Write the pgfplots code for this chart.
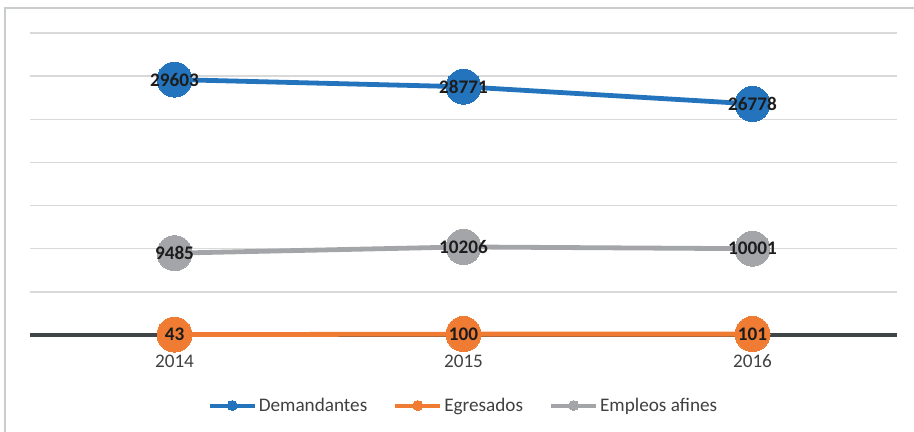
\documentclass[border=0pt]{standalone}
\usepackage{pgfplots}
\pgfplotsset{compat=1.18}
\usepackage{fontspec}
\setmainfont{Carlito}
\definecolor{cBlue}{HTML}{2374BD}
\definecolor{cOrange}{HTML}{F07B33}
\definecolor{cGray}{HTML}{A3A5A8}
\definecolor{cGrid}{HTML}{D9D9D9}
\definecolor{cAxis}{HTML}{404548}
\definecolor{cText}{HTML}{404040}
\definecolor{cLab}{HTML}{1C1C1C}
\definecolor{cBorder}{HTML}{C9CDCD}
\newcommand\lbl{\fontsize{19.2bp}{23bp}\selectfont}
\pgfplotsset{ser/.style={color=#1, line width=4.8bp, mark=*, mark size=17.5bp,
  mark options={fill=#1, draw=#1, line width=0pt},
  point meta=explicit symbolic, nodes near coords,
  every node near coord/.append style={anchor=center, font=\lbl\bfseries, text=cLab}}}
\begin{document}
\begin{tikzpicture}
\useasboundingbox (0,0) rectangle (914bp,432bp);
\draw[color=cBorder, line width=1.6bp] (5bp,0bp) -- (5bp,424bp) -- (914bp,424bp);
\begin{axis}[
  at={(30bp,97bp)}, anchor=south west,
  scale only axis, width=867bp, height=302bp,
  xmin=-0.5, xmax=2.5, ymin=0, ymax=35000,
  xtick={0,1,2}, xticklabels={2014,2015,2016},
  ytick={5000,10000,...,35000}, yticklabels={},
  scaled y ticks=false,
  ymajorgrids, grid style={color=cGrid, line width=1.3bp},
  axis x line=bottom, axis y line=left,
  x axis line style={draw=none, opacity=0},
  every outer x axis line/.append style={draw=none, opacity=0},
  y axis line style={draw=none, opacity=0},
  major tick length=0pt,
  xticklabel style={font=\lbl, text=cText, yshift=-16.5bp},
  clip=false,
  legend columns=3,
  legend style={draw=none, fill=none, at={(0.5,-0.2335)}, anchor=center,
    font=\lbl, text=cText,
    /tikz/every odd column/.append style={column sep=0bp},
    /tikz/every even column/.append style={column sep=24bp}},
  legend image code/.code={\draw[mark repeat=2,mark phase=2,#1,mark size=5bp,line width=4bp] plot coordinates {(0bp,0bp) (22.5bp,0bp) (45bp,0bp)};},
]
\addplot[color=cAxis, line width=3bp, no marks, forget plot] coordinates {(-0.5,0) (2.5,0)};
\addplot[ser=cBlue]
  table[meta=l] {
x y l
0 29603 29603
1 28771 28771
2 26778 26778
};
\addlegendentry{Demandantes}
\addplot[ser=cOrange]
  table[meta=l] {
x y l
0 43 43
1 100 100
2 101 101
};
\addlegendentry{Egresados}
\addplot[ser=cGray]
  table[meta=l] {
x y l
0 9485 9485
1 10206 10206
2 10001 10001
};
\addlegendentry{Empleos afines}
\end{axis}
\end{tikzpicture}
\end{document}
